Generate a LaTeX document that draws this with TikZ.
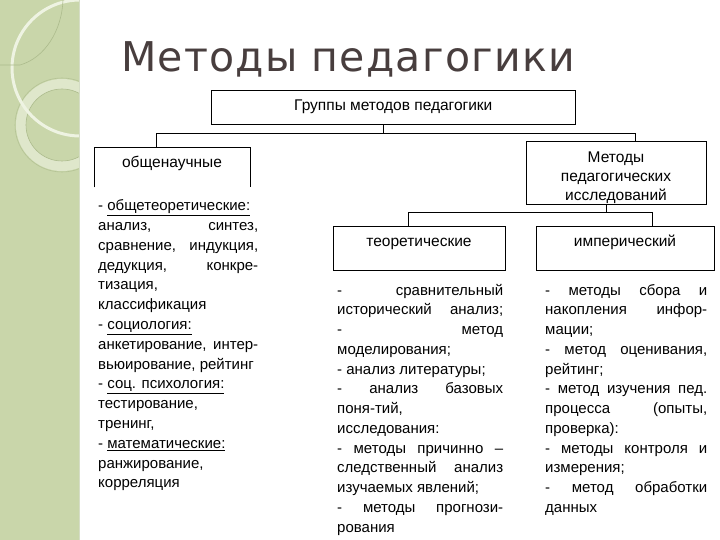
\documentclass[tikz,border=0pt]{standalone}
\usepackage{fontspec}
\setmainfont{Liberation Sans}
\newfontfamily\titlefont[LetterSpace=3]{DejaVu Sans}
\definecolor{stripgreen}{RGB}{201,214,170}
\definecolor{ringwhite}{RGB}{238,243,226}
\definecolor{ringline}{RGB}{172,187,140}
\definecolor{titlegray}{RGB}{72,62,62}
\newcommand{\jusl}[1]{\makebox[\linewidth][s]{#1}}
\newcommand{\natl}[1]{\makebox[\linewidth][l]{#1}}
\begin{document}
\begin{tikzpicture}[x=1pt,y=-1pt,
  box/.style={draw=black,line width=0.8pt,inner sep=0,minimum width=#1},
  box/.default=100pt,
  conn/.style={draw=black,line width=0.8pt},
  lbl/.style={inner sep=0,font=\fontsize{15.5}{19}\selectfont},
  col/.style={inner sep=0,anchor=base west}]
\useasboundingbox (0,0) rectangle (720,540);
\fill[white] (0,0) rectangle (720,540);
% decorative strip
\begin{scope}
  \clip (0,0) rectangle (79,540);
  \fill[stripgreen] (0,0) rectangle (79,540);
  \draw[ringwhite!60!stripgreen,line width=10pt] (62,125) circle (41);
  \draw[ringline,line width=0.6pt] (62,125) circle (36);
  \draw[ringline!70!stripgreen,line width=0.6pt] (62,125) circle (47);
  \draw[ringwhite,line width=3pt] (80,68) circle (68);
  \draw[ringline,line width=0.6pt] (0,65) -- (20,65) .. controls (45,58) and (62,30) .. (63,0);
\end{scope}
\draw[ringline!50!white,line width=0.6pt] (79,0) -- (79,540);
% title
\node[inner sep=0,anchor=base west,text=titlegray,font=\titlefont\fontsize{41}{41}\selectfont] (title) at (121,71.7) {Методы педагогики};
% boxes
\node[box=363.3pt,minimum height=33.3pt] (top) at (393.3,107.3) {};
\node[lbl,anchor=base] (toplbl) at (393.3,110.5) {Группы методов педагогики};
\node[inner sep=0,minimum width=156pt,minimum height=40pt,anchor=north west] (gen) at (94,147) {};
\draw[conn] (gen.south west) -- (gen.north west) -- (gen.north east) -- (gen.south east);
\node[lbl,anchor=base] (genlbl) at (172,167.3) {общенаучные};
\node[box=180pt,minimum height=63.5pt] (res) at (616,172.75) {};
\node[lbl,anchor=base] (reslbl) at (616,163) {\parbox[t]{180pt}{\centering\fontsize{15.5}{18.9}\selectfont Методы\\педагогических\\исследований}};
\node[box=172pt,minimum height=44pt] (theo) at (419,248) {};
\node[lbl,anchor=base] (theolbl) at (419,247) {теоретические};
\node[box=178pt,minimum height=44pt] (emp) at (625,248) {};
\node[lbl,anchor=base] (emplbl) at (625,247) {имперический};
% connectors
\coordinate (b1) at (383,133);
\coordinate (gL) at (156,133);
\coordinate (gR) at (635,133);
\draw[conn] (b1 |- top.south) -- (b1);
\draw[conn] (gL |- gen.north) -- (gL) -- (gR) -- (gR |- res.north);
\coordinate (tm) at (606,212.7);
\coordinate (tL) at (408,212.7);
\coordinate (tR) at (652,212.7);
\draw[conn] (tm |- res.south) -- (tm);
\draw[conn] (tL |- theo.north) -- (tL) -- (tR) -- (tR |- emp.north);
% text columns
\node[col] (colA) at (98,210.7) {\parbox[t]{160pt}{\fontsize{15}{19.8}\selectfont
\natl{- \underline{общетеоретические:}}\\
\jusl{анализ, синтез,}\\
\jusl{сравнение, индукция,}\\
\jusl{дедукция, конкре-}\\
\natl{тизация,}\\
\natl{классификация}\\
\natl{- \underline{социология:}}\\
\jusl{анкетирование, интер-}\\
\natl{вьюирование, рейтинг}\\
\natl{- \underline{соц. психология:}}\\
\natl{тестирование,}\\
\natl{тренинг,}\\
\natl{- \underline{математические:}}\\
\natl{ранжирование,}\\
\natl{корреляция}}};
\node[col] (colB) at (337,295) {\parbox[t]{166pt}{\fontsize{15}{19.75}\selectfont
\jusl{- сравнительный}\\
\jusl{исторический анализ;}\\
\jusl{- метод}\\
\natl{моделирования;}\\
\natl{- анализ литературы;}\\
\jusl{- анализ базовых}\\
\natl{поня-тий,}\\
\natl{исследования:}\\
\jusl{- методы причинно –}\\
\jusl{следственный анализ}\\
\natl{изучаемых явлений;}\\
\jusl{- методы прогнози-}\\
\natl{рования}}};
\node[col] (colC) at (545,295) {\parbox[t]{162pt}{\fontsize{15}{19.75}\selectfont
\jusl{- методы сбора и}\\
\jusl{накопления инфор-}\\
\natl{мации;}\\
\jusl{- метод оценивания,}\\
\natl{рейтинг;}\\
\jusl{- метод изучения пед.}\\
\jusl{процесса (опыты,}\\
\natl{проверка):}\\
\jusl{- методы контроля и}\\
\natl{измерения;}\\
\jusl{- метод обработки}\\
\natl{данных}}};
\end{tikzpicture}
\end{document}
